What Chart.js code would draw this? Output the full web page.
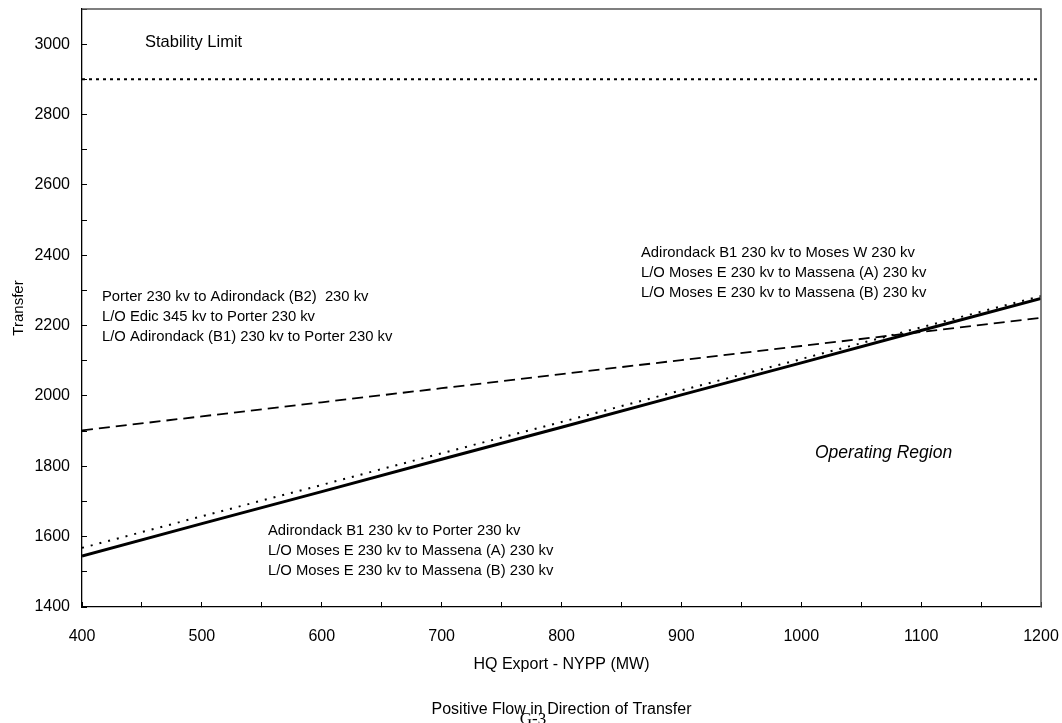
<!DOCTYPE html>
<html>
<head>
<meta charset="utf-8">
<script src="https://cdn.jsdelivr.net/npm/chart.js@4/dist/chart.umd.min.js"></script>
<style>
  body { margin: 0; background: #fff; }
  canvas { display: block; }
</style>
</head>
<body>
<canvas id="transferChart" width="1062" height="723"></canvas>
<script>
// HQ export (MW) on the x axis
const hqExport = [400, 500, 600, 700, 800, 900, 1000, 1100, 1200];

// transfer limits
const adirondackPorter = [1545, 1637, 1728, 1820, 1911, 2003, 2094, 2186, 2277];
const adirondackMosesW = [1568, 1658, 1747, 1837, 1926, 2016, 2105, 2195, 2284];
const porterAdirondack = [1902, 1942, 1982, 2022, 2062, 2102, 2142, 2182, 2222];
const stabilityLimit = [2900, 2900];
const stabilityX = [400, 1200];

const xTickLabels = [400, 500, 600, 700, 800, 900, 1000, 1100, 1200];
const yTickLabels = [1400, 1600, 1800, 2000, 2200, 2400, 2600, 2800, 3000];

const notes = [
  { lines: ["Porter 230 kv to Adirondack (B2)  230 kv",
            "L/O Edic 345 kv to Porter 230 kv",
            "L/O Adirondack (B1) 230 kv to Porter 230 kv"], x: 102, y: 297 },
  { lines: ["Adirondack B1 230 kv to Moses W 230 kv",
            "L/O Moses E 230 kv to Massena (A) 230 kv",
            "L/O Moses E 230 kv to Massena (B) 230 kv"], x: 641, y: 253 },
  { lines: ["Adirondack B1 230 kv to Porter 230 kv",
            "L/O Moses E 230 kv to Massena (A) 230 kv",
            "L/O Moses E 230 kv to Massena (B) 230 kv"], x: 268, y: 531 }
];

const FONT = "'Liberation Sans', Arial, sans-serif";

const pts = (xs, ys) => xs.map((x, i) => ({ x: x, y: ys[i] }));

const annotationPlugin = {
  id: "annotations",
  afterDraw(chart) {
    const ctx = chart.ctx;
    const area = chart.chartArea;
    ctx.save();
    // top and right frame
    ctx.strokeStyle = "#555";
    ctx.lineWidth = 1.5;
    ctx.beginPath();
    ctx.moveTo(area.left, area.top);
    ctx.lineTo(area.right, area.top);
    ctx.lineTo(area.right, area.bottom);
    ctx.stroke();

    ctx.fillStyle = "#000";
    ctx.textBaseline = "middle";
    ctx.textAlign = "left";
    ctx.font = "14.8px " + FONT;
    notes.forEach(n => {
      n.lines.forEach((t, i) => ctx.fillText(t, n.x, n.y + i * 20));
    });
    ctx.font = "16.5px " + FONT;
    ctx.fillText("Stability Limit", 145, 42);
    ctx.font = "italic 17.5px " + FONT;
    ctx.fillText("Operating Region", 815, 453);

    ctx.textAlign = "center";
    ctx.font = "16px " + FONT;
    ctx.fillText("Positive Flow in Direction of Transfer", (area.left + area.right) / 2, 710);
    ctx.font = "17px 'Liberation Serif', 'Times New Roman', serif";
    ctx.fillText("G-3", 533, 720);
    ctx.restore();
  }
};

const ctx = document.getElementById("transferChart").getContext("2d");

new Chart(ctx, {
  type: "line",
  data: {
    datasets: [
      {
        label: "Adirondack B1 to Porter",
        data: pts(hqExport, adirondackPorter),
        borderColor: "#000",
        borderWidth: 3,
        pointRadius: 0
      },
      {
        label: "Adirondack B1 to Moses W",
        data: pts(hqExport, adirondackMosesW),
        borderColor: "#000",
        borderWidth: 2,
        borderDash: [2, 7],
        pointRadius: 0
      },
      {
        label: "Porter to Adirondack (B2)",
        data: pts(hqExport, porterAdirondack),
        borderColor: "#000",
        borderWidth: 1.8,
        borderDash: [11, 6],
        pointRadius: 0
      },
      {
        label: "Stability Limit",
        data: pts(stabilityX, stabilityLimit),
        borderColor: "#000",
        borderWidth: 2,
        borderDash: [3, 4],
        pointRadius: 0
      }
    ]
  },
  options: {
    responsive: false,
    animation: false,
    layout: { padding: { top: 9, right: 21, bottom: 0, left: 0 } },
    plugins: {
      legend: { display: false },
      tooltip: { enabled: false }
    },
    scales: {
      x: {
        type: "linear",
        min: 400,
        max: 1200,
        afterFit: s => { s.height = 116; s.paddingLeft = 0; s.paddingRight = 0; },
        border: { color: "#000", width: 1.3 },
        grid: { drawOnChartArea: false, color: "#000", tickLength: -5 },
        ticks: {
          stepSize: 50,
          autoSkip: false,
          maxRotation: 0,
          padding: 25,
          color: "#000",
          font: { family: FONT, size: 16 },
          callback: v => xTickLabels.includes(v) ? String(v) : ""
        },
        title: {
          display: true,
          text: "HQ Export - NYPP (MW)",
          color: "#000",
          font: { family: FONT, size: 16 },
          padding: { top: 0, bottom: 49 }
        }
      },
      y: {
        min: 1400,
        max: 3100,
        afterFit: s => { s.width = 82; s.paddingTop = 0; s.paddingBottom = 0; },
        border: { color: "#000", width: 1.3 },
        grid: { drawOnChartArea: false, color: "#000", tickLength: -5 },
        ticks: {
          stepSize: 100,
          autoSkip: false,
          padding: 17,
          color: "#000",
          font: { family: FONT, size: 16 },
          callback: v => yTickLabels.includes(v) ? String(v) : ""
        },
        title: {
          display: true,
          text: "Transfer",
          color: "#000",
          font: { family: FONT, size: 15 },
          padding: { top: 10, bottom: 0 }
        }
      }
    }
  },
  plugins: [annotationPlugin]
});
</script>
</body>
</html>
